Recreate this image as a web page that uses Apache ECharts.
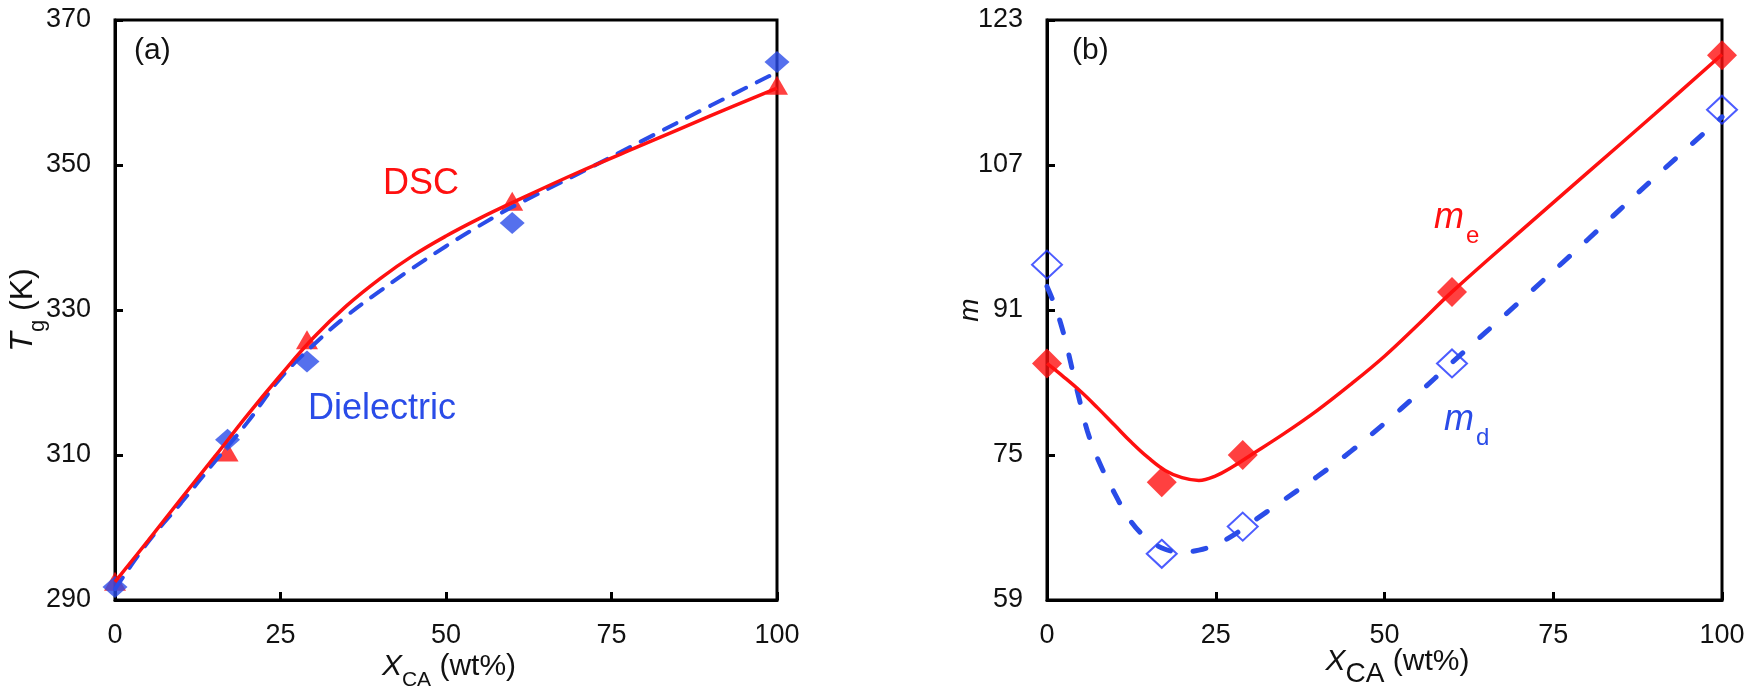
<!DOCTYPE html>
<html><head><meta charset="utf-8">
<script src="https://cdn.jsdelivr.net/npm/echarts@6/dist/echarts.min.js"></script>
<style>html,body{margin:0;padding:0;background:#fff}#c{width:1749px;height:694px}</style>
</head><body><div id="c"></div>
<script>
// ---- data ----
const xPoints = [0, 17, 29, 60, 100];
// panel (a): Tg (K)
const tgDSC = [292.6, 310.4, 325.9, 345.0, 361.0];
const tgDielectric = [291.8, 312.1, 322.9, 342.0, 364.2];
const fitXa = [0, 5, 10, 15, 20, 25, 30, 35, 40, 45, 50, 55, 60, 70, 80, 90, 100];
const tgDSCFit = [292.5, 298.2, 304.0, 309.7, 315.5, 321.0, 326.2, 330.6, 334.3, 337.5, 340.2, 342.6, 344.8, 349.0, 352.9, 356.8, 360.6];
const tgDielFit = [291.5, 298.0, 303.4, 309.0, 314.5, 320.6, 325.2, 329.2, 332.6, 335.8, 338.8, 341.6, 344.2, 348.8, 353.5, 358.2, 362.8];
// panel (b): fragility m
const mE = [85.1, 72.0, 75.0, 93.0, 119.1];
const mD = [96.0, 64.1, 67.1, 85.1, 113.1];
const fitXe = [0, 2.5, 5, 7.5, 10, 12.5, 15, 17.5, 20, 22.5, 25, 27.5, 30, 35, 40, 45, 50, 55, 60, 70, 80, 90, 100];
const mEFit = [85.1, 83.6, 82.0, 80.2, 78.3, 76.4, 74.7, 73.3, 72.5, 72.2, 72.7, 73.7, 74.9, 77.3, 79.9, 82.8, 85.9, 89.4, 93.0, 99.6, 106.1, 112.6, 119.2];
const fitXd = [0, 1, 2, 3, 4, 5, 6, 7.5, 10, 12.5, 15, 17.5, 20, 22.5, 25, 27.5, 30, 35, 40, 45, 50, 55, 60, 70, 80, 90, 100];
const mDFit = [93.6, 91.8, 89.6, 86.8, 83.6, 80.5, 77.6, 74.6, 70.8, 67.6, 65.7, 64.6, 64.3, 64.5, 65.1, 66.1, 67.4, 70.0, 72.6, 75.4, 78.5, 81.8, 85.2, 91.9, 98.7, 105.6, 112.3];
const xTicks = [0, 25, 50, 75, 100];
const yTicksA = [290, 310, 330, 350, 370];
const yTicksB = [59, 75, 91, 107, 123];

// ---- style ----
const FONT = '"Liberation Sans", Arial, sans-serif';
const RED = '#ff1010';
const BLUE = '#2a4ce8';
const BLUE2 = '#1f33ff';
const TXT = '#111';

function pairs(xs, ys) { return xs.map((x, i) => [x, ys[i]]); }

function titleRich(fs, lh, sfs, spad) {
  return {
    i: { fontSize: fs, fontStyle: 'italic', fontFamily: FONT, color: TXT, lineHeight: lh, verticalAlign: 'top' },
    s: { fontSize: sfs, fontFamily: FONT, color: TXT, lineHeight: sfs, padding: [spad, 0, 0, 0], verticalAlign: 'top' },
    n: { fontSize: fs, fontFamily: FONT, color: TXT, lineHeight: lh, verticalAlign: 'top' }
  };
}

function xAxisFor(gi, gap, rich, pad) {
  return {
    gridIndex: gi, type: 'value', min: 0, max: 100, interval: 25,
    axisLine: { show: true, onZero: false, lineStyle: { color: '#000', width: 3 } },
    axisTick: { show: true, inside: true, length: 8, lineStyle: { color: '#000', width: 3 } },
    axisLabel: { fontSize: 27, color: TXT, fontFamily: FONT, margin: 22, customValues: xTicks },
    splitLine: { show: false },
    name: '{i|X}{s|CA}{n| (wt%)}', nameLocation: 'middle', nameGap: gap, nameMoveOverlap: false,
    nameTextStyle: { rich: rich, padding: pad }
  };
}
function yAxisFor(gi, min, max, ticks, name, gap, rich) {
  return {
    gridIndex: gi, type: 'value', min: min, max: max,
    axisLine: { show: true, onZero: false, lineStyle: { color: '#000', width: 3 } },
    axisTick: { show: true, inside: true, length: 8, lineStyle: { color: '#000', width: 3 }, customValues: ticks },
    axisLabel: { fontSize: 27, color: TXT, fontFamily: FONT, margin: 24, customValues: ticks },
    splitLine: { show: false },
    name: name, nameLocation: 'middle', nameRotate: 90, nameGap: gap, nameMoveOverlap: false,
    nameTextStyle: { rich: rich }
  };
}

const chart = echarts.init(document.getElementById('c'), null, { renderer: 'canvas' });
chart.setOption({
  animation: false,
  backgroundColor: '#fff',
  textStyle: { fontFamily: FONT },
  grid: [
    { left: 115, top: 20, width: 662, height: 580, containLabel: false, outerBoundsMode: 'none',
      show: true, borderColor: '#000', borderWidth: 3, backgroundColor: 'transparent' },
    { left: 1047, top: 20, width: 675, height: 580, containLabel: false, outerBoundsMode: 'none',
      show: true, borderColor: '#000', borderWidth: 3, backgroundColor: 'transparent' }
  ],
  xAxis: [
    xAxisFor(0, 52, titleRich(30, 36, 21, 18), [0, 0, 0, 6]),
    xAxisFor(1, 47, titleRich(30, 36, 28, 13), [0, 0, 0, 26])
  ],
  yAxis: [
    yAxisFor(0, 290, 370, yTicksA, '{i|T}{s|g}{n| (K)}', 70, titleRich(32, 38, 22, 20)),
    yAxisFor(1, 59, 123, yTicksB, '{i|m}', 53, titleRich(28, 38, 20, 0))
  ],
  series: [
    { type: 'scatter', xAxisIndex: 0, yAxisIndex: 0, z: 2, symbol: 'triangle', symbolSize: [22, 19],
      itemStyle: { color: RED }, data: pairs(xPoints, tgDSC) },
    { type: 'scatter', xAxisIndex: 0, yAxisIndex: 0, z: 2, symbol: 'diamond', symbolSize: [25, 22],
      itemStyle: { color: BLUE }, data: pairs(xPoints, tgDielectric) },
    { type: 'line', xAxisIndex: 0, yAxisIndex: 0, z: 3, smooth: 0.4, showSymbol: false, symbol: 'none',
      lineStyle: { color: BLUE, width: 4, type: [14, 12], cap: 'round' }, data: pairs(fitXa, tgDielFit) },
    { type: 'line', xAxisIndex: 0, yAxisIndex: 0, z: 4, smooth: 0.4, showSymbol: false, symbol: 'none',
      lineStyle: { color: RED, width: 3.5 }, data: pairs(fitXa, tgDSCFit) },

    { type: 'scatter', xAxisIndex: 1, yAxisIndex: 1, z: 2, symbol: 'diamond', symbolSize: [30, 30],
      itemStyle: { color: RED }, data: pairs(xPoints, mE) },
    { type: 'scatter', xAxisIndex: 1, yAxisIndex: 1, z: 2, symbol: 'diamond', symbolSize: [30, 28],
      itemStyle: { color: 'rgba(255,255,255,0)', borderColor: BLUE2, borderWidth: 2 }, data: pairs(xPoints, mD) },
    { type: 'line', xAxisIndex: 1, yAxisIndex: 1, z: 3, smooth: 0.4, showSymbol: false, symbol: 'none',
      lineStyle: { color: BLUE, width: 5, type: [13, 23], cap: 'round' }, data: pairs(fitXd, mDFit) },
    { type: 'line', xAxisIndex: 1, yAxisIndex: 1, z: 4, smooth: 0.4, showSymbol: false, symbol: 'none',
      lineStyle: { color: RED, width: 3.5 }, data: pairs(fitXe, mEFit) }
  ],
  graphic: [
    { type: 'text', left: 134, top: 36, style: { text: '(a)', fontSize: 30, fill: TXT, fontFamily: FONT } },
    { type: 'text', left: 1072, top: 36, style: { text: '(b)', fontSize: 30, fill: TXT, fontFamily: FONT } },
    { type: 'text', left: 383, top: 166, style: { text: 'DSC', fontSize: 36, fill: RED, fontFamily: FONT } },
    { type: 'text', left: 308, top: 391, style: { text: 'Dielectric', fontSize: 36, fill: BLUE, fontFamily: FONT } },
    { type: 'text', left: 1434, top: 200, style: { text: '{m|m}{s|e}', fill: RED, rich: {
        m: { fontSize: 36, fontStyle: 'italic', fontFamily: FONT, fill: RED, lineHeight: 40, verticalAlign: 'top' },
        s: { fontSize: 24, fontFamily: FONT, fill: RED, lineHeight: 24, padding: [24, 0, 0, 2], verticalAlign: 'top' } } } },
    { type: 'text', left: 1444, top: 402, style: { text: '{m|m}{s|d}', fill: BLUE, rich: {
        m: { fontSize: 36, fontStyle: 'italic', fontFamily: FONT, fill: BLUE, lineHeight: 40, verticalAlign: 'top' },
        s: { fontSize: 24, fontFamily: FONT, fill: BLUE, lineHeight: 24, padding: [24, 0, 0, 2], verticalAlign: 'top' } } } }
  ]
});
</script></body></html>
